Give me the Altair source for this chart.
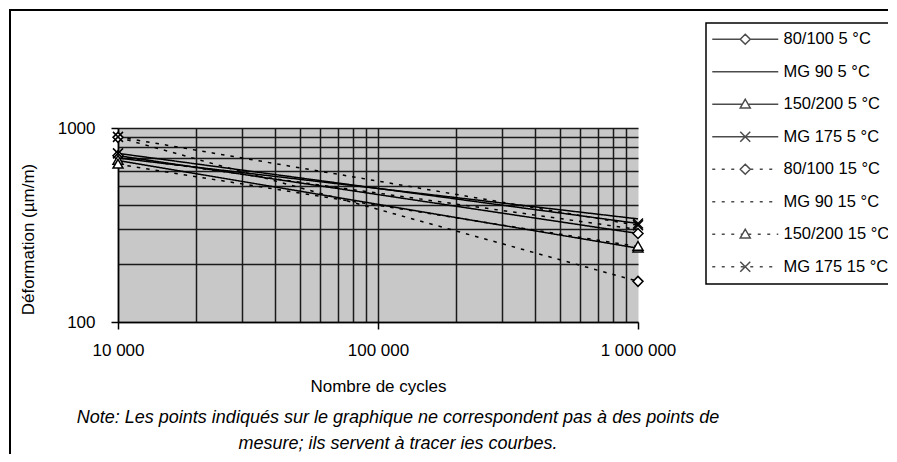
import altair as alt
import pandas as pd

# ---------------- data ----------------
series = ["80/100 5 °C", "MG 90 5 °C", "150/200 5 °C", "MG 175 5 °C",
          "80/100 15 °C", "MG 90 15 °C", "150/200 15 °C", "MG 175 15 °C"]
cycles = [10000, 1000000]
start_values = [720, 700, 680, 740, 895, 710, 650, 900]
end_values = [286, 340, 240, 322, 162, 300, 245, 315]

x_major = [10000, 100000, 1000000]
x_major_labels = ["10 000", "100 000", "1 000 000"]
x_grid = [10000, 20000, 30000, 40000, 50000, 60000, 70000, 80000, 90000,
          100000, 200000, 300000, 400000, 500000, 600000, 700000, 800000, 900000]
y_grid = [100, 200, 300, 400, 500, 600, 700, 800, 900, 1000]
y_major = [100, 1000]
y_major_labels = ["100", "1000"]

x_title = "Nombre de cycles"
y_title = "Déformation (µm/m)"
note_lines = ["Note: Les points indiqués sur le graphique ne correspondent pas à des points de",
              "mesure; ils servent à tracer ies courbes."]

rows = []
for s, a, b in zip(series, start_values, end_values):
    rows.append({"series": s, "cycles": cycles[0], "def": a})
    rows.append({"series": s, "cycles": cycles[1], "def": b})
df = pd.DataFrame(rows)

# ---------------- styles ----------------
FONT = "Liberation Sans"
marker_kind = ["diamond", "none", "triangle", "x", "diamond", "none", "triangle", "x"]
dashed = [False, False, False, False, True, True, True, True]

plot_paths = {
    "diamond": "M0,-1L1,0L0,1L-1,0Z",
    "triangle": "M0,-1L1,0.75L-1,0.75Z",
    "x": "M-1,-1L1,1M-1,1L1,-1",
}
marker_series = [s for s, k in zip(series, marker_kind) if k != "none"]
marker_range = [plot_paths[k] for k in marker_kind if k != "none"]

dash_range = [[3.5, 6] if d else [1, 0] for d in dashed]

HALF = 6.6


def seg(x0, x1, is_dashed):
    if not is_dashed:
        return f"M{x0:.2f},0H{x1:.2f}"
    out = []
    x = x0
    while x < x1 - 0.05:
        e = min(x + 0.6, x1)
        out.append(f"M{x:.2f},0H{e:.2f}")
        x += 1.9
    return "".join(out)


legend_paths = []
for k, d in zip(marker_kind, dashed):
    if k == "none":
        legend_paths.append(seg(-HALF, HALF, d))
    elif k == "diamond":
        legend_paths.append(seg(-HALF, -1, d) + seg(1, HALF, d) + plot_paths["diamond"])
    elif k == "triangle":
        legend_paths.append(seg(-HALF, -0.6, d) + seg(0.6, HALF, d) + plot_paths["triangle"])
    else:
        legend_paths.append(seg(-HALF, HALF, d) + plot_paths["x"])

# ---------------- axes ----------------
x_label_expr = " : ".join(
    f"datum.value == {v} ? '{l}'" for v, l in zip(x_major, x_major_labels)) + " : ''"
y_label_expr = " : ".join(
    f"datum.value == {v} ? '{l}'" for v, l in zip(y_major, y_major_labels)) + " : ''"
x_tick_test = "indexof([" + ",".join(str(v) for v in x_major) + "], datum.value) >= 0"
y_tick_test = "indexof([" + ",".join(str(v) for v in y_major) + "], datum.value) >= 0"

x_enc = alt.X(
    "cycles:Q",
    scale=alt.Scale(type="log", domain=[cycles[0], cycles[1]], nice=False),
    axis=alt.Axis(
        values=x_grid + [x_major[-1]], labelExpr=x_label_expr, labelOverlap=False,
        labelFlush=False, labelPadding=13, labelFontSize=17, labelFont=FONT, labelColor="black",
        tickSize=7, tickWidth=1.5, tickColor="black",
        tickOpacity={"condition": {"test": x_tick_test, "value": 1}, "value": 0},
        gridColor="#1a1a1a", gridWidth=1.5,
        gridOpacity={"condition": {"test": "datum.value < 1000000", "value": 1}, "value": 0},
        domainColor="black", domainWidth=1.5,
        title=x_title, titleFontSize=17, titleFont=FONT, titleFontWeight="normal",
        titleColor="black", titleY=56, titleBaseline="top",
    ),
)
y_enc = alt.Y(
    "def:Q",
    scale=alt.Scale(type="log", domain=[y_grid[0], y_grid[-1]], nice=False),
    axis=alt.Axis(
        values=y_grid, labelExpr=y_label_expr, labelOverlap=False, labelFlush=False,
        labelPadding=16, labelFontSize=17, labelFont=FONT, labelColor="black",
        tickSize=7, tickWidth=1.5, tickColor="black",
        tickOpacity={"condition": {"test": y_tick_test, "value": 1}, "value": 0},
        gridColor="#1a1a1a", gridWidth=1.5,
        domainColor="black", domainWidth=1.5,
        title=y_title, titleFontSize=17, titleFont=FONT, titleFontWeight="normal",
        titleColor="black", titleX=-90, titleY=111, titleBaseline="middle",
    ),
)

base = alt.Chart(df)

frame = alt.Chart(alt.Data(values=[{}])).mark_rect(
    fillOpacity=0, stroke="black", strokeWidth=2
).encode(x=alt.value(-108), x2=alt.value(790), y=alt.value(-118), y2=alt.value(330))

lines = base.mark_line(color="black", strokeWidth=1.5).encode(
    x=x_enc, y=y_enc,
    strokeDash=alt.StrokeDash("series:N", scale=alt.Scale(domain=series, range=dash_range),
                              legend=None),
)

markers = base.transform_filter(
    alt.FieldOneOfPredicate(field="series", oneOf=marker_series)
).mark_point(filled=True, fill="white", stroke="black", strokeWidth=1.5, size=100, opacity=1).encode(
    x="cycles:Q", y="def:Q",
    shape=alt.Shape("series:N", scale=alt.Scale(domain=marker_series, range=marker_range),
                    legend=None),
)

legend_layer = base.transform_filter("false").mark_point(
    color="black", strokeWidth=1.5, size=100, filled=False
).encode(
    x="cycles:Q", y="def:Q",
    shape=alt.Shape(
        "series:N", scale=alt.Scale(domain=series, range=legend_paths),
        legend=alt.Legend(
            title=None, orient="none", legendX=588, legendY=-105,
            padding=8, rowPadding=15.5, symbolOffset=23, labelOffset=30,
            symbolSize=100, symbolStrokeWidth=1.5, symbolStrokeColor="black",
            symbolFillColor="white", labelFontSize=16.5, labelFont=FONT, labelColor="black",
            labelLimit=400, strokeColor="black", fillColor="white",
        ),
    ),
)

chart = alt.layer(frame, lines, markers, legend_layer).resolve_scale(
    shape="independent"
).properties(
    width=520, height=194, autosize="none",
    padding={"left": 110, "top": 120, "right": 250, "bottom": 132},
    title=alt.TitleParams(
        text=note_lines, orient="bottom", anchor="middle", fontSize=18, fontStyle="italic",
        fontWeight="normal", font=FONT, color="black", dx=20, offset=-50, lineHeight=26,
        frame="group",
    ),
).configure_view(fill="#c8c8c8", stroke="transparent").configure_legend(strokeWidth=1.5)

chart.save("out.html", embed_options={"renderer": "svg", "actions": False})
